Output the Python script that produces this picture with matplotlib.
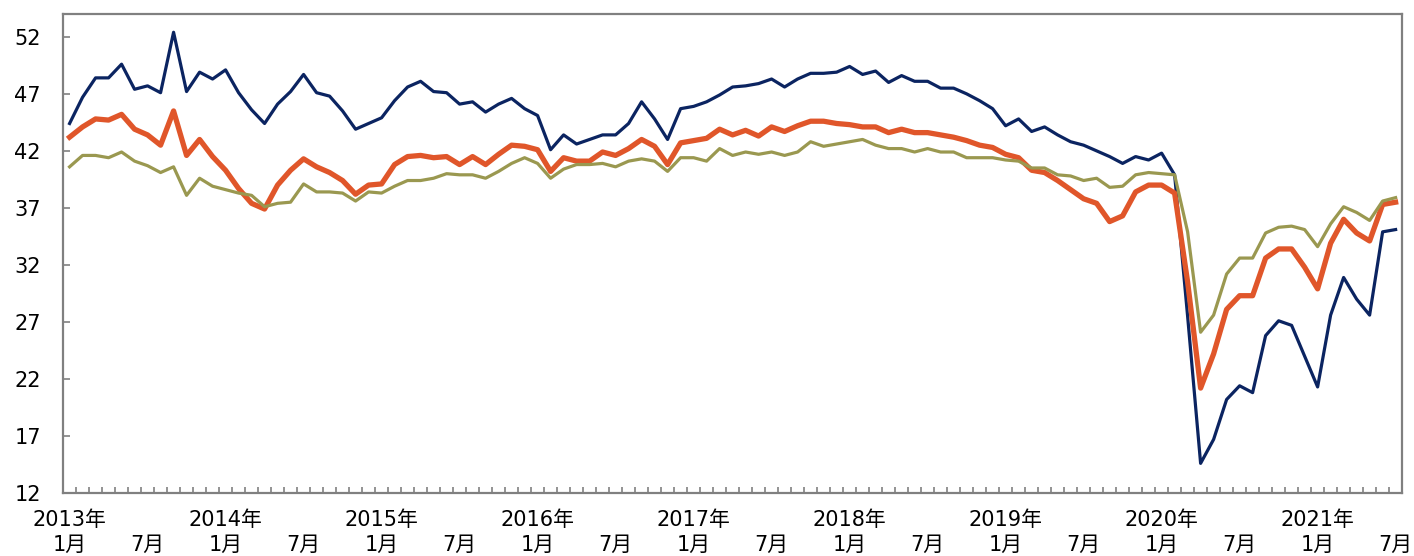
import numpy as np
import matplotlib
matplotlib.use("Agg")
import matplotlib.pyplot as plt

plt.rcParams['font.family'] = ['DejaVu Sans', 'Noto Sans CJK JP']

# 2013年1月〜2021年7月（月次）
start_year = 2013
n_months = 103

navy = [44.4, 46.7, 48.4, 48.4, 49.6, 47.4, 47.7, 47.1, 52.4, 47.2, 48.9, 48.3,
        49.1, 47.1, 45.6, 44.4, 46.1, 47.2, 48.7, 47.1, 46.8, 45.5, 43.9, 44.4,
        44.9, 46.4, 47.6, 48.1, 47.2, 47.1, 46.1, 46.3, 45.4, 46.1, 46.6, 45.7,
        45.1, 42.1, 43.4, 42.6, 43.0, 43.4, 43.4, 44.4, 46.3, 44.8, 43.0, 45.7,
        45.9, 46.3, 46.9, 47.6, 47.7, 47.9, 48.3, 47.6, 48.3, 48.8, 48.8, 48.9,
        49.4, 48.7, 49.0, 48.0, 48.6, 48.1, 48.1, 47.5, 47.5, 47.0, 46.4, 45.7,
        44.2, 44.8, 43.7, 44.1, 43.4, 42.8, 42.5, 42.0, 41.5, 40.9, 41.5, 41.2,
        41.8, 39.9, 27.5, 14.6, 16.7, 20.2, 21.4, 20.8, 25.8, 27.1, 26.7, 24.0,
        21.3, 27.6, 30.9, 29.0, 27.6, 34.9, 35.1]

orange = [43.2, 44.1, 44.8, 44.7, 45.2, 43.9, 43.4, 42.5, 45.5, 41.6, 43.0, 41.5,
          40.3, 38.7, 37.4, 36.9, 39.0, 40.3, 41.3, 40.6, 40.1, 39.4, 38.2, 39.0,
          39.1, 40.8, 41.5, 41.6, 41.4, 41.5, 40.8, 41.5, 40.8, 41.7, 42.5, 42.4,
          42.1, 40.2, 41.4, 41.1, 41.1, 41.9, 41.6, 42.2, 43.0, 42.4, 40.8, 42.7,
          42.9, 43.1, 43.9, 43.4, 43.8, 43.3, 44.1, 43.7, 44.2, 44.6, 44.6, 44.4,
          44.3, 44.1, 44.1, 43.6, 43.9, 43.6, 43.6, 43.4, 43.2, 42.9, 42.5, 42.3,
          41.7, 41.4, 40.3, 40.1, 39.4, 38.6, 37.8, 37.4, 35.8, 36.3, 38.4, 39.0,
          39.0, 38.3, 30.5, 21.2, 24.2, 28.1, 29.3, 29.3, 32.6, 33.4, 33.4, 31.8,
          29.9, 33.9, 36.0, 34.8, 34.1, 37.3, 37.5]

olive = [40.6, 41.6, 41.6, 41.4, 41.9, 41.1, 40.7, 40.1, 40.6, 38.1, 39.6, 38.9,
         38.6, 38.3, 38.1, 37.1, 37.4, 37.5, 39.1, 38.4, 38.4, 38.3, 37.6, 38.4,
         38.3, 38.9, 39.4, 39.4, 39.6, 40.0, 39.9, 39.9, 39.6, 40.2, 40.9, 41.4,
         40.9, 39.6, 40.4, 40.8, 40.8, 40.9, 40.6, 41.1, 41.3, 41.1, 40.2, 41.4,
         41.4, 41.1, 42.2, 41.6, 41.9, 41.7, 41.9, 41.6, 41.9, 42.8, 42.4, 42.6,
         42.8, 43.0, 42.5, 42.2, 42.2, 41.9, 42.2, 41.9, 41.9, 41.4, 41.4, 41.4,
         41.2, 41.1, 40.5, 40.5, 39.9, 39.8, 39.4, 39.6, 38.8, 38.9, 39.9, 40.1,
         40.0, 39.9, 34.9, 26.1, 27.6, 31.2, 32.6, 32.6, 34.8, 35.3, 35.4, 35.1,
         33.6, 35.6, 37.1, 36.6, 35.9, 37.6, 37.9]

y_ticks = [12, 17, 22, 27, 32, 37, 42, 47, 52]

x = np.arange(n_months)

# ラベル：1月は「年＋1月」、7月は「7月」
label_pos = []
label_txt = []
for i in range(0, n_months, 6):
    year = start_year + i // 12
    if i % 12 == 0:
        label_txt.append(str(year) + "年\n1月")
    else:
        label_txt.append("\n7月")
    label_pos.append(i)

fig = plt.figure(figsize=(14.14, 5.56), dpi=100)
ax = fig.add_axes([0.0446, 0.1133, 0.947, 0.8615])

ax.plot(x, navy, color='#0b2461', linewidth=2.3, zorder=2)
ax.plot(x, orange, color='#e0562a', linewidth=3.8, zorder=3)
ax.plot(x, olive, color='#9a9850', linewidth=2.3, zorder=4)

ax.set_xlim(-0.5, n_months - 0.5)
ax.set_ylim(12, 54)
ax.set_yticks(y_ticks)

ax.set_xticks(label_pos)
ax.set_xticklabels(label_txt, fontsize=15, linespacing=1.3)
ax.set_xticks(np.arange(0.5, n_months - 1, 1), minor=True)
ax.tick_params(axis='x', which='major', length=0, pad=12)
ax.tick_params(axis='x', which='minor', direction='in', length=4, width=1.2, color='#808080')
ax.tick_params(axis='y', direction='in', length=5, width=1.2, color='#808080',
               labelsize=15, pad=16)

for s in ax.spines.values():
    s.set_color('#808080')
    s.set_linewidth(1.6)

fig.savefig('out.png', dpi=100)
